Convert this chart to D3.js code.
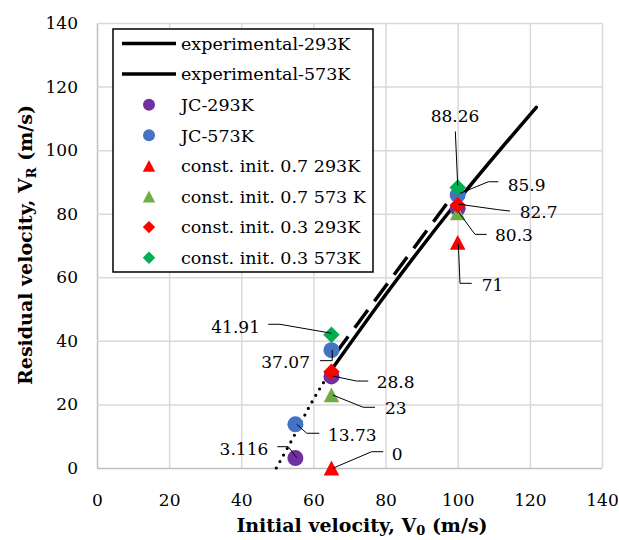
<!DOCTYPE html>
<html lang="en">
<head>
  <meta charset="UTF-8">
  <script src="https://d3js.org/d3.v7.min.js"></script>
  <title>Residual velocity</title>
  <style>
    body { margin: 0; background: #fff; }
    text { font-family: "DejaVu Serif", serif; fill: #000; }
  </style>
</head>
<body>
  <script>
    // values
    const xTicks = [0, 20, 40, 60, 80, 100, 120, 140]
    const yTicks = [0, 20, 40, 60, 80, 100, 120, 140]

    const exp293 = [[65.2, 31.2], [80, 54.5], [100, 84], [121.8, 113.5]]
    const exp573 = [[66, 35.8], [98.5, 85.5]]
    const expTail = [[49.7, 0], [54.5, 9.8], [59.2, 20], [65.2, 31.2]]

    const jc293 = [[55, 3.116], [65, 28.8], [100, 81.7]]
    const jc573 = [[55, 13.73], [65, 37.07], [100, 85.9]]
    const ci07_293 = [[65, 0], [100, 71]]
    const ci07_573 = [[65, 23], [100, 80.3]]
    const ci03_293 = [[65, 30.3], [100, 82.7]]
    const ci03_573 = [[65, 41.91], [100, 88.26]]

    const legendNames = ["experimental-293K", "experimental-573K", "JC-293K", "JC-573K",
      "const. init. 0.7 293K", "const. init. 0.7 573 K", "const. init. 0.3 293K", "const. init. 0.3 573K"]

    const pointSeries = [
      { data: jc293, color: "#7030A0", shape: "circle" },
      { data: jc573, color: "#4472C4", shape: "circle" },
      { data: ci07_293, color: "#FF0000", shape: "triangle" },
      { data: ci07_573, color: "#70AD47", shape: "triangle" },
      { data: ci03_293, color: "#FF0000", shape: "diamond" },
      { data: ci03_573, color: "#00B050", shape: "diamond" }
    ]

    // data labels: which point, text offset (px) and leader line (px, relative to the point)
    const labels = [
      { s: ci03_573, i: 1, dx: -2.7, dy: -72, anchor: "middle", leader: [[-2.4, -56], [0, -2]] },
      { s: jc573, i: 2, dx: 50, dy: -10, anchor: "start", leader: [[40.6, -13.2], [30.6, -13.2], [2.3, -1.6]] },
      { s: ci03_293, i: 1, dx: 62, dy: 6.6, anchor: "start", leader: [[52.3, 5.9], [40, 4.5], [0.6, -1]] },
      { s: ci07_573, i: 1, dx: 37.3, dy: 22.3, anchor: "start", leader: [[29, 21.6], [17.3, 21.6], [0.6, -1]] },
      { s: ci07_293, i: 1, dx: 24, dy: 42.7, anchor: "start", leader: [[14, 41], [2.3, 41], [0.6, 1]] },
      { s: ci03_573, i: 0, dx: -71.5, dy: -8.1, anchor: "end", leader: [[-63.2, -10.5], [-51.5, -10.5], [0.2, -1.5]] },
      { s: jc573, i: 1, dx: -21.5, dy: 11.5, anchor: "end", leader: [[-11.5, 10.5], [0.8, 10.5], [0.8, -0.2]] },
      { s: jc293, i: 1, dx: 45.2, dy: 5.3, anchor: "start", leader: [[36.8, 4.6], [25.2, 4.6], [1.2, -0.4]] },
      { s: ci07_573, i: 0, dx: 53.5, dy: 13.1, anchor: "start", leader: [[43.5, 12.4], [31.8, 12.4], [1.2, 0.1]] },
      { s: jc573, i: 0, dx: 32.6, dy: 10.6, anchor: "start", leader: [[23.9, 8.9], [11.3, 8.9], [1.3, -0.1]] },
      { s: jc293, i: 0, dx: -27.1, dy: -8.8, anchor: "end", leader: [[-18.1, -11.4], [-7.1, -11.4], [1.3, -0.4]] },
      { s: ci07_293, i: 0, dx: 60.2, dy: -14, anchor: "start", leader: [[51.8, -16.3], [40.2, -16.3], [1.2, 0.3]] }
    ]

    const dimension = {
      width: 619,
      height: 540,
      margin: { top: 23, right: 17, bottom: 72, left: 97 }
    }
    dimension.boundedWidth = dimension.width - dimension.margin.left - dimension.margin.right
    dimension.boundedHeight = dimension.height - dimension.margin.top - dimension.margin.bottom

    const svg = d3.select("body")
      .append("svg")
      .attr("width", dimension.width)
      .attr("height", dimension.height)

    const bounds = svg.append("g")
      .attr("transform", `translate(${dimension.margin.left},${dimension.margin.top})`)

    const xScale = d3.scaleLinear().domain([0, 140]).range([0, dimension.boundedWidth])
    const yScale = d3.scaleLinear().domain([0, 140]).range([dimension.boundedHeight, 0])

    // grid
    const xAxis = bounds.append("g")
      .attr("transform", `translate(0,${dimension.boundedHeight})`)
      .call(d3.axisBottom(xScale).tickValues(xTicks).tickSize(-dimension.boundedHeight).tickPadding(26))
    const yAxis = bounds.append("g")
      .call(d3.axisLeft(yScale).tickValues(yTicks).tickSize(-dimension.boundedWidth).tickPadding(19))

    for (const ax of [xAxis, yAxis]) {
      ax.select(".domain").remove()
      ax.selectAll(".tick line").attr("stroke", "#D9D9D9").attr("stroke-width", 1.5)
      ax.selectAll(".tick text").style("font-family", "DejaVu Serif").style("font-size", "17px").attr("fill", "#000")
    }
    xAxis.selectAll(".tick").filter(d => d === 0).select("line").attr("stroke", "#BFBFBF")
    yAxis.selectAll(".tick").filter(d => d === 0).select("line").attr("stroke", "#BFBFBF")

    // lines
    const line = d3.line().x(d => xScale(d[0])).y(d => yScale(d[1])).curve(d3.curveMonotoneX)

    bounds.append("path")
      .attr("d", line(expTail))
      .attr("fill", "none")
      .attr("stroke", "#000")
      .attr("stroke-width", 3.2)
      .attr("stroke-linecap", "round")
      .attr("stroke-dasharray", "0,7.5")

    bounds.append("path")
      .attr("d", line(exp573))
      .attr("fill", "none")
      .attr("stroke", "#000")
      .attr("stroke-width", 3.5)
      .attr("stroke-dasharray", "22,11")

    bounds.append("path")
      .attr("d", line(exp293))
      .attr("fill", "none")
      .attr("stroke", "#000")
      .attr("stroke-width", 3.5)
      .attr("stroke-linecap", "round")

    // marker shapes
    const shapes = {
      circle: r => d3.symbol(d3.symbolCircle, Math.PI * r * r)(),
      triangle: r => `M0,${-r * 0.95}L${r},${r * 0.95}L${-r},${r * 0.95}Z`,
      diamond: r => `M0,${-r}L${r},0L0,${r}L${-r},0Z`
    }
    const markerSize = { circle: 8, triangle: 7.8, diamond: 8.2 }

    pointSeries.forEach(s => {
      bounds.append("g").selectAll("path")
        .data(s.data)
        .join("path")
        .attr("d", shapes[s.shape](markerSize[s.shape]))
        .attr("transform", d => `translate(${xScale(d[0])},${yScale(d[1])})`)
        .attr("fill", s.color)
    })

    // data labels
    const labelG = bounds.append("g")
    labels.forEach(l => {
      const p = l.s[l.i]
      const px = xScale(p[0]), py = yScale(p[1])
      labelG.append("path")
        .attr("d", d3.line()(l.leader.map(o => [px + o[0], py + o[1]])))
        .attr("fill", "none")
        .attr("stroke", "#000")
        .attr("stroke-width", 1)
      labelG.append("text")
        .attr("x", px + l.dx)
        .attr("y", py + l.dy)
        .attr("dy", "0.36em")
        .attr("text-anchor", l.anchor)
        .style("font-size", "17px")
        .text(String(p[1]))
    })

    // legend
    const legend = svg.append("g").attr("transform", "translate(113,29)")
    legend.append("rect")
      .attr("width", 260).attr("height", 243)
      .attr("fill", "#fff").attr("stroke", "#000").attr("stroke-width", 1.5)

    legendNames.forEach((name, i) => {
      const y = 14.5 + i * 30.6
      const row = legend.append("g").attr("transform", `translate(0,${y})`)
      if (i < 2) {
        row.append("line").attr("x1", 9).attr("x2", 63)
          .attr("stroke", "#000").attr("stroke-width", 3.5)
      } else {
        const s = pointSeries[i - 2]
        row.append("path")
          .attr("d", shapes[s.shape](s.shape === "circle" ? 6 : 6.2))
          .attr("transform", "translate(36,0)")
          .attr("fill", s.color)
      }
      row.append("text")
        .attr("x", 68).attr("dy", "0.36em")
        .style("font-size", "17.5px")
        .text(name)
    })

    // axis titles
    const yTitle = svg.append("text")
      .attr("transform", "translate(32,245) rotate(-90)")
      .attr("text-anchor", "middle")
      .style("font-size", "19px").style("font-weight", "bold")
    yTitle.append("tspan").text("Residual velocity, V")
    yTitle.append("tspan").attr("dy", 4).style("font-size", "13px").text("R")
    yTitle.append("tspan").attr("dy", -4).text(" (m/s)")

    const xTitle = svg.append("text")
      .attr("x", 362).attr("y", 532)
      .attr("text-anchor", "middle")
      .style("font-size", "19px").style("font-weight", "bold")
    xTitle.append("tspan").text("Initial velocity, V")
    xTitle.append("tspan").attr("dy", 3).style("font-size", "13px").text("0")
    xTitle.append("tspan").attr("dy", -3).text(" (m/s)")
  </script>
</body>
</html>
